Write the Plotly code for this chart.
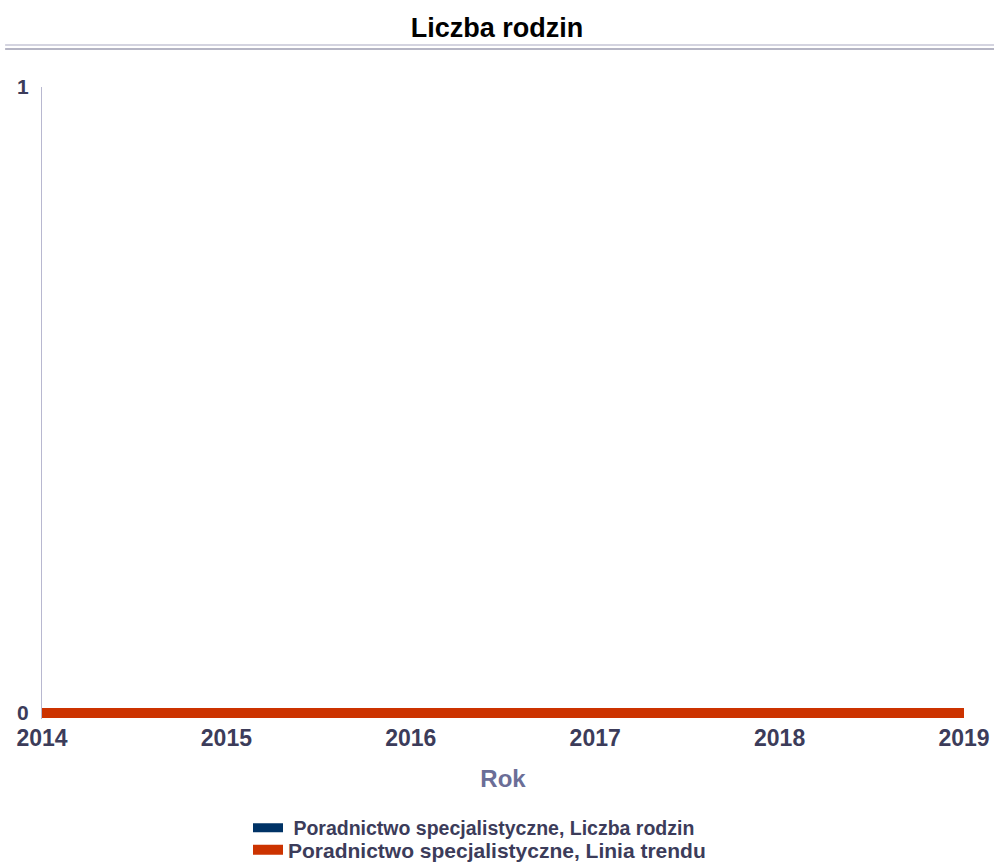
import plotly.graph_objects as go

# Data
years = [2014, 2015, 2016, 2017, 2018, 2019]
liczba_rodzin = [0, 0, 0, 0, 0, 0]
linia_trendu = [0, 0, 0, 0, 0, 0]

font_family = "Liberation Sans, Arial, sans-serif"
label_color = "#3c3c5a"

fig = go.Figure()

fig.add_trace(go.Scatter(
    x=years,
    y=liczba_rodzin,
    mode="lines",
    name="<b> Poradnictwo specjalistyczne, Liczba rodzin</b>",
    line=dict(color="#003366", width=9),
    legend="legend",
))

fig.add_trace(go.Scatter(
    x=years,
    y=linia_trendu,
    mode="lines",
    name="<b>Poradnictwo specjalistyczne, Linia trendu</b>",
    line=dict(color="#cc3300", width=10),
    legend="legend2",
))

legend_style = dict(
    orientation="h",
    xref="container",
    yref="container",
    xanchor="left",
    yanchor="middle",
    itemwidth=30,
    bgcolor="rgba(0,0,0,0)",
)

fig.update_layout(
    width=994,
    height=865,
    paper_bgcolor="white",
    plot_bgcolor="white",
    margin=dict(l=42, r=30, t=87, b=146),
    title=dict(
        text="<b>Liczba rodzin</b>",
        x=0.5,
        xanchor="center",
        y=1 - 28 / 865,
        yanchor="middle",
        font=dict(family=font_family, size=27, color="black"),
    ),
    xaxis=dict(
        range=[2014, 2019],
        tickvals=years,
        ticktext=[f"<b>{y}</b>" for y in years],
        tickangle=0,
        automargin=False,
        showgrid=False,
        zeroline=False,
        showline=False,
        ticks="",
        ticklabelstandoff=3,
        tickfont=dict(family=font_family, size=23, color=label_color),
        title=dict(
            text="<b>Rok</b>",
            font=dict(family=font_family, size=24, color="#6b6e97"),
            standoff=20,
        ),
    ),
    yaxis=dict(
        range=[-0.0096, 1],
        tickvals=[0, 1],
        ticktext=["<b>0</b>", "<b>1</b>"],
        automargin=False,
        showgrid=True,
        gridcolor="#a8a8b8",
        gridwidth=1,
        zeroline=False,
        showline=True,
        linecolor="#b8b8d0",
        linewidth=1,
        ticks="",
        ticklabelstandoff=8,
        tickfont=dict(family=font_family, size=21, color=label_color),
    ),
    legend=dict(legend_style, x=248 / 994, y=1 - 828 / 865,
                font=dict(family=font_family, size=19.5, color=label_color)),
    legend2=dict(legend_style, x=248 / 994, y=1 - 850 / 865,
                 font=dict(family=font_family, size=21, color=label_color)),
    showlegend=True,
)

# Double separator line under the title
fig.add_shape(type="line", xref="paper", yref="paper",
              x0=-0.04, x1=1.052, y0=1 + (87 - 45) / 632, y1=1 + (87 - 45) / 632,
              line=dict(color="#d4d4e0", width=2))
fig.add_shape(type="line", xref="paper", yref="paper",
              x0=-0.04, x1=1.052, y0=1 + (87 - 49) / 632, y1=1 + (87 - 49) / 632,
              line=dict(color="#9c9cb0", width=1.5))

fig.write_html("out.html", config={"displayModeBar": False},
               post_script="document.body.style.margin = '0';")
